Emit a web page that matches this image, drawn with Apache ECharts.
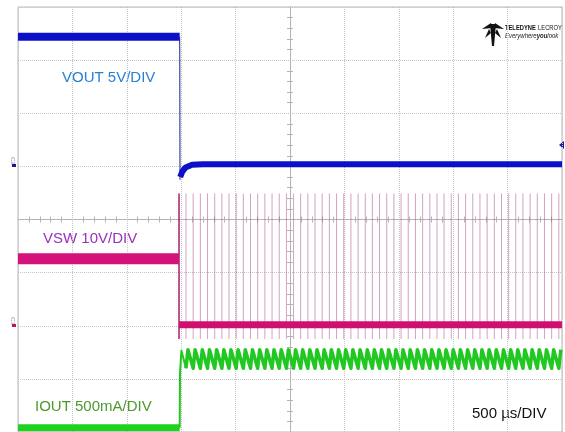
<!DOCTYPE html>
<html>
<head>
<meta charset="utf-8">
<script src="https://cdn.jsdelivr.net/npm/echarts@6/dist/echarts.min.js"></script>
<style>
  html, body { margin: 0; padding: 0; background: #fff; }
  #main { width: 565px; height: 432px; }
</style>
</head>
<body>
<div id="main"></div>
<script>
// x: time in µs from screen center (500 µs/div), y: divisions (-4..4)
var xMin = -2500, xMax = 2500;
var yMin = -4, yMax = 4;

// VOUT 5V/DIV
var voutPre = [[-2500, 3.44], [-1014, 3.44]];
var voutEdge = [[-1014, 3.44], [-1013, 3.1], [-1011, 0.75]];
var voutPost = [[-1009, 0.8], [-990, 0.9], [-960, 0.98], [-900, 1.03], [-800, 1.04], [2500, 1.04]];

// VSW 10V/DIV
var vswPre = [[-2500, -0.74], [-1022, -0.74]];
var vswEdge = [[-1020, 0.49], [-1020, -2.25]];
var vswLow = -1.98;
var vswPeak = 0.49;
var vswDip = -2.25;
// switching pulses
var spikeTimes = [-956, -890, -824, -758, -692, -626, -561, -495, -429, -363, -297, -231, -165, -99, -33,
  33, 98, 164, 230, 296, 362, 428, 494, 560, 626, 692, 757, 823, 889, 955, 1021, 1087, 1153, 1219,
  1285, 1351, 1416, 1482, 1548, 1614, 1680, 1746, 1812, 1878, 1944, 2010, 2075, 2141, 2207, 2273,
  2339, 2405, 2471];

// IOUT 500mA/DIV
var ioutPre = [[-2500, -3.92], [-1014, -3.92]];
var ioutEdge = [[-1014, -3.92], [-1011, -2.9], [-998, -2.47], [-956, -2.8]];
var ioutHigh = -2.45;
var ioutLow = -2.8;
var ioutRise = 18; // µs to reach the peak after each pulse

// pulses as vertical strokes
var spikeData = [];
spikeTimes.forEach(function (t) {
  spikeData.push([t, vswDip], [t, vswPeak], [t, '-']);
});

// inductor current ramps
var ioutSaw = [];
spikeTimes.forEach(function (t) {
  ioutSaw.push([t, ioutLow], [t + ioutRise, ioutHigh]);
});

function trace(data, color, width, z, join) {
  return {
    type: 'line',
    data: data,
    symbol: 'none',
    silent: true,
    z: z || 2,
    lineStyle: { color: color, width: width, cap: 'butt', join: join || 'miter' }
  };
}

var chart = echarts.init(document.getElementById('main'), null, { renderer: 'canvas' });

var centerAxisX = {
  type: 'value',
  min: xMin,
  max: xMax,
  interval: 500,
  axisLabel: { show: false },
  axisLine: { show: true, onZero: true, lineStyle: { color: '#b4b4b4', width: 1 } },
  axisTick: { show: false },
  minorTick: { show: true, splitNumber: 5, length: 3, lineStyle: { color: '#b4b4b4' } },
  splitLine: { show: false }
};
var centerAxisY = {
  type: 'value',
  min: yMin,
  max: yMax,
  interval: 1,
  axisLabel: { show: false },
  axisLine: { show: true, onZero: true, lineStyle: { color: '#b4b4b4', width: 1 } },
  axisTick: { show: false },
  minorTick: { show: true, splitNumber: 5, length: 3, lineStyle: { color: '#b4b4b4' } },
  splitLine: { show: false }
};

var logoFont = '"Liberation Sans Narrow", "Liberation Sans", sans-serif';

var option = {
  backgroundColor: '#ffffff',
  animation: false,
  grid: {
    left: 18, top: 7, width: 544, height: 426,
    show: true, borderColor: '#b8b8b8', borderWidth: 1
  },
  xAxis: [
    Object.assign({}, centerAxisX, {
      position: 'bottom',
      splitLine: { show: true, lineStyle: { color: '#c4c4c4', type: 'dotted', width: 1 } }
    }),
    Object.assign({}, centerAxisX, { position: 'top' })
  ],
  yAxis: [
    Object.assign({}, centerAxisY, {
      position: 'left',
      splitLine: { show: true, lineStyle: { color: '#c4c4c4', type: 'dotted', width: 1 } }
    }),
    Object.assign({}, centerAxisY, { position: 'right' })
  ],
  series: [
    trace(ioutPre, '#1ed21e', 7, 3),
    trace(ioutEdge, '#1ec81e', 2, 3, 'round'),
    trace(ioutSaw, '#22c822', 3.5, 3, 'round'),
    trace(spikeData, 'rgba(165, 70, 135, 0.5)', 1, 4),
    trace(vswPre, '#d4137a', 11, 5),
    trace(vswEdge, '#a81c6a', 1.5, 5),
    trace([[-1020, vswLow], [xMax, vswLow]], '#d0106e', 7, 5),
    trace(voutPre, '#0c10c8', 8, 6),
    trace(voutEdge, '#1a1a9a', 1, 6),
    trace(voutPost, '#0c10c8', 6, 6, 'round')
  ],
  graphic: [
    { type: 'text', left: 62, top: 70, silent: true,
      style: { text: 'VOUT 5V/DIV', font: '15px "Liberation Sans", Arial, sans-serif', fill: '#2a80d0' } },
    { type: 'text', left: 43, top: 231, silent: true,
      style: { text: 'VSW 10V/DIV', font: '15px "Liberation Sans", Arial, sans-serif', fill: '#9b30c0' } },
    { type: 'text', left: 35, top: 399, silent: true,
      style: { text: 'IOUT 500mA/DIV', font: '15px "Liberation Sans", Arial, sans-serif', fill: '#4c9a2e' } },
    { type: 'text', left: 472, top: 406, silent: true,
      style: { text: '500 µs/DIV', font: '15px "Liberation Sans", Arial, sans-serif', fill: '#111111' } },
    // Teledyne LeCroy logo
    { type: 'polygon', silent: true,
      shape: { points: [[482, 29], [491, 23], [492, 28]] }, style: { fill: '#111111' } },
    { type: 'polygon', silent: true,
      shape: { points: [[504, 29], [495, 23], [494, 28]] }, style: { fill: '#111111' } },
    { type: 'polygon', silent: true,
      shape: { points: [[490, 24], [496, 24], [494, 46], [492, 46]] }, style: { fill: '#111111' } },
    { type: 'polygon', silent: true,
      shape: { points: [[489, 29], [485, 38], [491, 33]] }, style: { fill: '#111111' } },
    { type: 'polygon', silent: true,
      shape: { points: [[497, 29], [501, 38], [495, 33]] }, style: { fill: '#111111' } },
    { type: 'text', x: 505, y: 22, scaleX: 0.72, silent: true,
      style: {
        text: '{b|TELEDYNE} {n|LECROY}',
        rich: {
          b: { font: 'bold 8px ' + logoFont, fill: '#111111' },
          n: { font: '8px ' + logoFont, fill: '#111111' }
        }
      } },
    { type: 'text', x: 505, y: 32, scaleX: 0.75, silent: true,
      style: {
        text: '{i|Everywhere}{b|you}{i|look}',
        rich: {
          i: { font: 'italic 8px ' + logoFont, fill: '#222222' },
          b: { font: 'bold italic 8px ' + logoFont, fill: '#222222' }
        }
      } },
    // channel markers
    { type: 'text', x: 16, y: 157, rotation: -Math.PI / 2, silent: true,
      style: { text: 'C2', font: '6px "Liberation Sans", sans-serif', fill: '#9090a8' } },
    { type: 'rect', silent: true, shape: { x: 12, y: 164, width: 4, height: 3 }, style: { fill: '#1a1a8a' } },
    { type: 'text', x: 16, y: 317, rotation: -Math.PI / 2, silent: true,
      style: { text: 'C3', font: '6px "Liberation Sans", sans-serif', fill: '#a890a0' } },
    { type: 'rect', silent: true, shape: { x: 12, y: 324, width: 4, height: 3 }, style: { fill: '#c0106a' } },
    { type: 'polygon', silent: true,
      shape: { points: [[564, 141], [564, 149], [559, 145]] },
      style: { fill: '#1a1aa0' } }
  ]
};

chart.setOption(option);
</script>
</body>
</html>
